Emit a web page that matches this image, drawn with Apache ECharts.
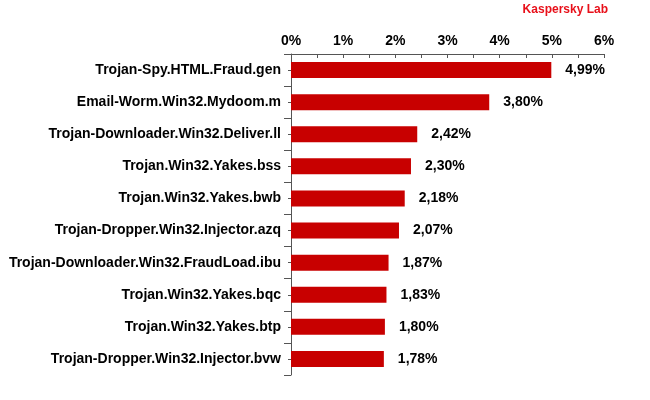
<!DOCTYPE html>
<html>
<head>
<meta charset="utf-8">
<script src="https://cdn.jsdelivr.net/npm/echarts@6/dist/echarts.min.js"></script>
<style>
html,body{margin:0;padding:0;background:#fff;}
#main{width:650px;height:400px;}
</style>
</head>
<body>
<div id="main"></div>
<script>
var names = ['Trojan-Spy.HTML.Fraud.gen','Email-Worm.Win32.Mydoom.m','Trojan-Downloader.Win32.Deliver.ll',
  'Trojan.Win32.Yakes.bss','Trojan.Win32.Yakes.bwb','Trojan-Dropper.Win32.Injector.azq',
  'Trojan-Downloader.Win32.FraudLoad.ibu','Trojan.Win32.Yakes.bqc','Trojan.Win32.Yakes.btp',
  'Trojan-Dropper.Win32.Injector.bvw'];
var shares = [4.99,3.80,2.42,2.30,2.18,2.07,1.87,1.83,1.80,1.78];
var ticks = [0,1,2,3,4,5,6];

var chart = echarts.init(document.getElementById('main'));

var option = {
  animation:false,
  textStyle:{fontFamily:'Liberation Sans, Arial, sans-serif'},
  graphic:[{
    type:'text', right:42, top:4,
    style:{text:'Kaspersky Lab', fill:'#e8101a', font:'bold 12px "Liberation Sans", Arial, sans-serif'}
  }],
  grid:{left:291, right:46, top:54, bottom:25},
  xAxis:{
    type:'value', position:'top', min:ticks[0], max:ticks[ticks.length-1], interval:1,
    axisLine:{show:true, lineStyle:{color:'#555', width:1}},
    axisTick:{show:true, inside:true, length:4, lineStyle:{color:'#555'}},
    minorTick:{show:true, splitNumber:2, length:4, lineStyle:{color:'#555'}},
    splitLine:{show:false},
    axisLabel:{formatter:'{value}%', color:'#000', fontWeight:'bold', fontSize:14, margin:6}
  },
  yAxis:[{
    type:'category', data:names, inverse:true,
    axisLine:{show:true, lineStyle:{color:'#555'}},
    axisTick:{show:true, length:7, lineStyle:{color:'#555'}},
    axisLabel:{color:'#000', fontWeight:'bold', fontSize:14, margin:10}
  },{
    type:'category', data:names, inverse:true, position:'left',
    axisLine:{show:false},
    axisTick:{show:true, alignWithLabel:true, length:3, lineStyle:{color:'#555'}},
    axisLabel:{show:false}
  }],
  series:[{
    type:'bar', data:shares, barWidth:16,
    itemStyle:{color:'#c80000'},
    label:{show:true, position:'right', distance:14, color:'#000', fontWeight:'bold', fontSize:14,
      formatter:function(p){return p.value.toFixed(2).replace('.', ',') + '%';}}
  }]
};
chart.setOption(option);
</script>
</body>
</html>
